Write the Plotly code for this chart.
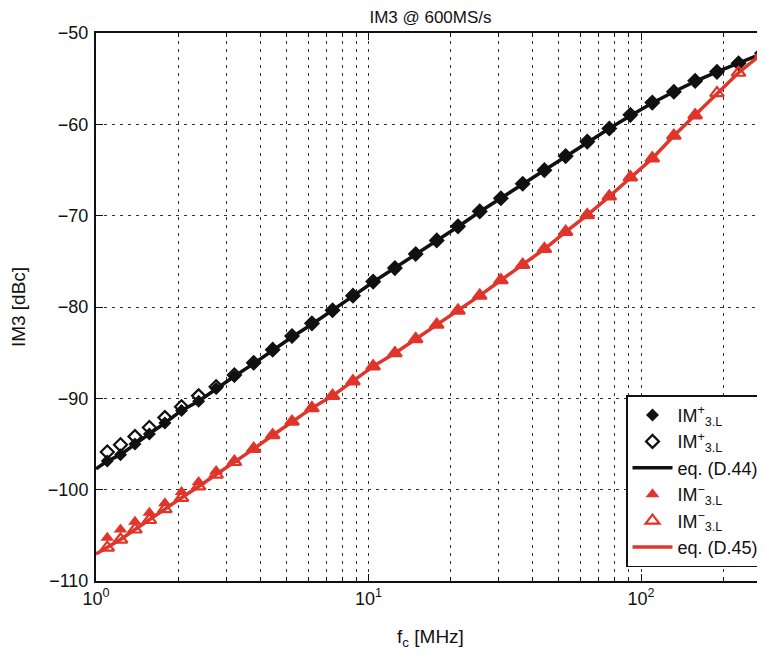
import plotly.graph_objects as go

# ---- data ----
freq_mhz = [1.10, 1.23, 1.39, 1.57, 1.79, 2.06, 2.38, 2.76, 3.22, 3.79,
            4.45, 5.24, 6.20, 7.38, 8.77, 10.4, 12.5, 14.9, 17.8, 21.3,
            25.6, 30.6, 36.8, 44.2, 52.9, 63.5, 76.5, 91.4, 110, 132,
            158, 190, 228, 278]

im3p_filled = [-96.87, -96.18, -94.99, -93.90, -92.70, -91.32, -90.32, -88.93, -87.59, -86.20,
               -84.72, -83.28, -81.89, -80.40, -78.81, -77.27, -75.74, -74.25, -72.76, -71.22,
               -69.58, -68.09, -66.56, -65.02, -63.48, -61.94, -60.45, -59.06, -57.67, -56.43,
               -55.29, -54.25, -53.26, -52.27]

im3p_open = [-95.88, -95.09, -94.19, -93.20, -92.11, -90.92, -89.73, -88.73, -87.45, -86.10,
             -84.67, -83.18, -81.79, -80.35, -78.76, -77.22, -75.74, -74.20, -72.71, -71.17,
             -69.53, -68.09, -66.51, -65.02, -63.48, -61.89, -60.45, -58.96, -57.62, -56.43,
             -55.24, -54.25, -53.31, -52.22]

im3m_filled = [-105.26, -104.36, -103.52, -102.53, -101.49, -100.25, -99.15, -97.96, -96.77, -95.43,
               -93.99, -92.51, -91.07, -89.73, -88.14, -86.50, -85.06, -83.52, -81.94, -80.40,
               -78.76, -77.07, -75.39, -73.65, -71.77, -69.93, -67.90, -65.81, -63.73, -61.25,
               -59.01, None, None, -52.27]

im3m_open = [-106.35, -105.46, -104.36, -103.32, -102.13, -100.89, -99.65, -98.36, -96.97, -95.53,
             -94.04, -92.56, -91.07, -89.73, -88.14, -86.50, -85.06, -83.52, -81.94, -80.40,
             -78.76, -77.07, -75.39, -73.65, -71.77, -69.93, -67.90, -65.81, -63.73, -61.25,
             -59.01, -56.58, -54.35, -52.27]

eq_freq = [1.0] + freq_mhz + [300]
eq_d44 = [-97.72] + im3p_filled + [-51.85]
eq_d45 = [-107.05] + im3m_open + [-51.3]

x_major = [1, 10, 100]
x_major_text = ["10<sup>0</sup>", "10<sup>1</sup>", "10<sup>2</sup>"]
x_minor = [2, 3, 4, 5, 6, 7, 8, 9, 20, 30, 40, 50, 60, 70, 80, 90, 200, 300]
y_ticks = [-110, -100, -90, -80, -70, -60, -50]
y_text = ["\u2212110", "\u2212100", "\u221290", "\u221280", "\u221270", "\u221260", "\u221250"]

BLACK = "#111111"
RED = "#e0352a"

fig = go.Figure()
fig.add_trace(go.Scatter(x=freq_mhz, y=im3p_filled, mode="markers",
                         name="IM<sup>+</sup><sub>3.L</sub>",
                         marker=dict(symbol="diamond", size=10, color=BLACK)))
fig.add_trace(go.Scatter(x=freq_mhz, y=im3p_open, mode="markers",
                         name="IM<sup>+</sup><sub>3.L</sub>",
                         marker=dict(symbol="diamond-open", size=10, color=BLACK,
                                     line=dict(width=2.2, color=BLACK))))
fig.add_trace(go.Scatter(x=eq_freq, y=eq_d44, mode="lines", name="eq. (D.44)",
                         line=dict(color=BLACK, width=3.5)))
fig.add_trace(go.Scatter(x=freq_mhz, y=im3m_filled, mode="markers",
                         name="IM<sup>\u2212</sup><sub>3.L</sub>",
                         marker=dict(symbol="triangle-up", size=12, color=RED)))
fig.add_trace(go.Scatter(x=freq_mhz, y=im3m_open, mode="markers",
                         name="IM<sup>\u2212</sup><sub>3.L</sub>",
                         marker=dict(symbol="triangle-up-open", size=12, color=RED,
                                     line=dict(width=2.2, color=RED))))
fig.add_trace(go.Scatter(x=eq_freq, y=eq_d45, mode="lines", name="eq. (D.45)",
                         line=dict(color=RED, width=3.5)))

grid_kw = dict(showgrid=True, gridcolor="#333333", gridwidth=1, griddash="3px,5px")

# page body has an 8px margin: figure is sized/margined to compensate
fig.update_layout(
    width=757, height=650,
    margin=dict(l=88, r=0, t=25, b=77),
    paper_bgcolor="white", plot_bgcolor="white",
    font=dict(family="Liberation Sans, Arial, sans-serif", size=16, color="#111111"),
    title=dict(text="IM3 @ 600MS/s", x=0.5, xref="paper", xanchor="center",
               y=0.996, yref="container", yanchor="top", pad=dict(t=0, b=0),
               font=dict(size=17)),
    showlegend=True,
    legend=dict(x=1.0, y=0.025, xanchor="right", yanchor="bottom",
                bgcolor="white", bordercolor="#111111", borderwidth=1.5,
                font=dict(size=18), tracegroupgap=0, itemwidth=40),
    xaxis=dict(type="log", range=[0, 2.455],
               tickvals=x_major, ticktext=x_major_text,
               ticks="inside", ticklen=7, tickwidth=1, tickcolor=BLACK,
               showline=True, linecolor=BLACK, linewidth=2, mirror="ticks",
               tickfont=dict(size=18),
               title=dict(text="f<sub>c</sub> [MHz]", font=dict(size=19), standoff=22),
               minor=dict(tickvals=x_minor, ticks="inside", ticklen=4, tickcolor=BLACK,
                          showgrid=True, gridcolor="#333333", gridwidth=1, griddash="3px,5px"),
               zeroline=False, **grid_kw),
    yaxis=dict(range=[-110, -50], tickvals=y_ticks, ticktext=y_text,
               ticks="inside", ticklen=7, tickwidth=1, tickcolor=BLACK,
               showline=True, linecolor=BLACK, linewidth=2, mirror=False,
               tickfont=dict(size=18), ticklabelstandoff=2,
               title=dict(text="IM3 [dBc]", font=dict(size=19), standoff=20),
               zeroline=False, **grid_kw),
)

fig.write_html("out.html")
